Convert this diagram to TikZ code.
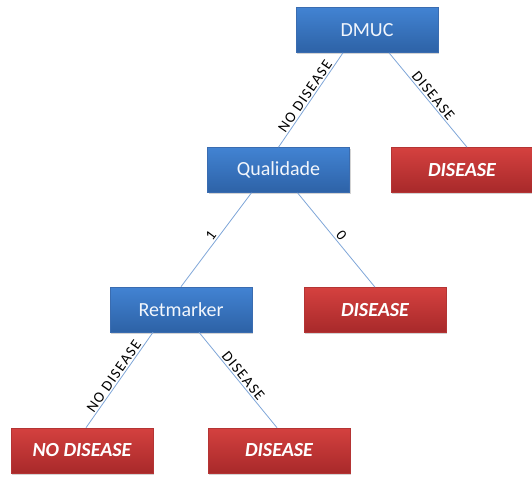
\documentclass[tikz,border=0pt]{standalone}
\usepackage{fontspec}
\setmainfont{Carlito}
\usetikzlibrary{shadows}
\definecolor{edgeblue}{HTML}{7FA6D8}
\definecolor{bluetop}{HTML}{4283D3}
\definecolor{bluebot}{HTML}{2D62A6}
\definecolor{blueline}{HTML}{3A6CB0}
\definecolor{redtop}{HTML}{D4413F}
\definecolor{redbot}{HTML}{A8292A}
\definecolor{redline}{HTML}{B43434}
\definecolor{txtwhite}{HTML}{F2F6FC}
\tikzset{
  basebox/.style={minimum width=142pt, minimum height=45pt, inner sep=0pt,
    font=\fontsize{20}{22}\selectfont, text=txtwhite,
    drop shadow={shadow xshift=1.2pt, shadow yshift=-1.5pt, opacity=0.35}},
  bluebox/.style={basebox, draw=blueline, line width=0.6pt, top color=bluetop, bottom color=bluebot},
  redbox/.style={basebox, draw=redline, line width=0.6pt, top color=redtop, bottom color=redbot,
    font=\fontsize{20}{22}\selectfont\bfseries\itshape, text=white},
  edge/.style={draw=edgeblue, line width=0.8pt},
  elabel/.style={font=\fontsize{15}{17}\selectfont\addfontfeatures{LetterSpace=9}, text=black, sloped, midway, above, inner sep=1.5pt}
}
\begin{document}
\begin{tikzpicture}[x=1pt, y=-1pt]
\useasboundingbox (0,0) rectangle (532,476);
\node[bluebox] (dmuc) at (367,30) {DMUC};
\node[redbox] (d1) at (462,170) {DISEASE};
\node[bluebox] (qual) at (278.5,170) {Qualidade};
\node[redbox] (d2) at (375,310) {DISEASE};
\node[bluebox] (ret) at (181,309.5) {Retmarker};
\node[redbox] (nd) at (82,450.5) {NO DISEASE};
\node[redbox] (d3) at (279,450.5) {DISEASE};

\draw[edge] ([xshift=-24pt]dmuc.south) -- (qual.north) node[elabel] {NO DISEASE};
\draw[edge] ([xshift=22pt]dmuc.south) -- ([xshift=5pt]d1.north) node[elabel] {DISEASE};
\draw[edge] ([xshift=-27pt]qual.south) -- (ret.north) node[elabel] {1};
\draw[edge] ([xshift=19pt]qual.south) -- (d2.north) node[elabel] {0};
\draw[edge] ([xshift=-28pt]ret.south) -- ([xshift=4pt]nd.north) node[elabel] {NO DISEASE};
\draw[edge] ([xshift=18pt]ret.south) -- ([xshift=-2pt]d3.north) node[elabel] {DISEASE};
\end{tikzpicture}
\end{document}
